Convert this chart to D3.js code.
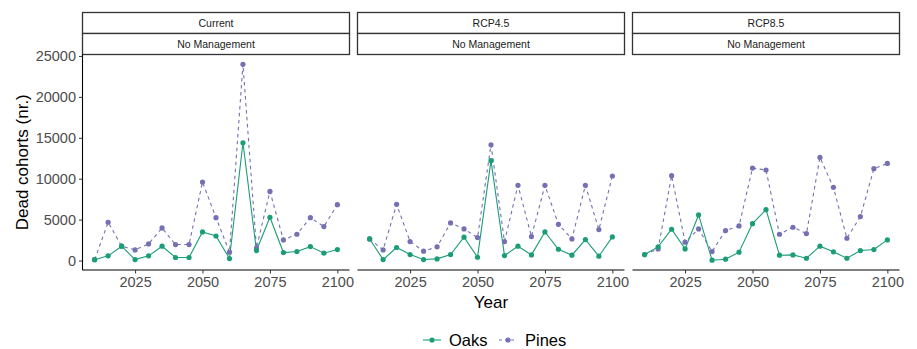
<!DOCTYPE html>
<html>
<head>
<meta charset="utf-8">
<script src="https://cdn.jsdelivr.net/npm/d3@7"></script>
<style>
	body { margin: 0; background: #fff; }
	svg { display: block; }
</style>
</head>
<body>
<div class="chart"></div>
<script>
	var years = [2010, 2015, 2020, 2025, 2030, 2035, 2040, 2045, 2050, 2055,
		2060, 2065, 2070, 2075, 2080, 2085, 2090, 2095, 2100];
	var scenarios = ['Current', 'RCP4.5', 'RCP8.5'];
	var management = 'No Management';
	var species = ['Oaks', 'Pines'];

	// Dead cohorts per scenario
	var oaksCurrent = [100, 570, 1750, 120, 570, 1750, 370, 370, 3500, 3000,
		240, 14390, 1220, 5280, 975, 1100, 1700, 900, 1340];
	var pinesCurrent = [100, 4675, 1750, 1300, 2030, 3980, 1950, 1950, 9590, 5240,
		1020, 23980, 1540, 8450, 2520, 3210, 5240, 4150, 6830];
	var oaksRcp45 = [2640, 120, 1590, 730, 120, 200, 730, 2850, 400, 12200,
		610, 1750, 690, 3500, 1380, 650, 2560, 530, 2890];
	var pinesRcp45 = [2640, 1300, 6870, 2320, 1140, 1670, 4590, 3860, 2800, 14150,
		2320, 9190, 2930, 9190, 4430, 2640, 9190, 3780, 10330];
	var oaksRcp85 = [730, 1670, 3820, 1420, 5570, 40, 160, 1020, 4510, 6220,
		650, 690, 280, 1750, 1060, 280, 1220, 1340, 2520];
	var pinesRcp85 = [730, 1420, 10370, 2240, 3860, 1100, 3660, 4230, 11300, 11060,
		3210, 4070, 3290, 12600, 8940, 2720, 5370, 11220, 11870];

	var yTicks = [0, 5000, 10000, 15000, 20000, 25000];
	var xTicks = [2025, 2050, 2075, 2100];

	var oakColor = '#1b9e77',
		pineColor = '#7570b3',
		tickTextColor = '#4d4d4d',
		stripBorder = '#333333';

	var panelData = [
		{oaks: oaksCurrent, pines: pinesCurrent},
		{oaks: oaksRcp45, pines: pinesRcp45},
		{oaks: oaksRcp85, pines: pinesRcp85}
	];

	var W = 917, H = 349;
	var panelLeft = 82.5, panelWidth = 267, panelGap = 8;
	var stripTop = 12.5, stripH = 21;
	var panelTop = stripTop + 2 * stripH, panelBottom = 270;

	var svg = d3.select('.chart').append('svg')
		.attr('width', W)
		.attr('height', H)
		.attr('font-family', '"Liberation Sans", Arial, sans-serif');

	// ggplot-like scale expansion of 5%
	var allVals = d3.merge(panelData.map(function(p) { return p.oaks.concat(p.pines); }));
	var yMin = d3.min(allVals), yMax = d3.max(allVals);
	var yPad = (yMax - yMin) * 0.05;
	var y = d3.scaleLinear().domain([yMin - yPad, yMax + yPad]).range([panelBottom, panelTop]);
	var xPad = (d3.max(years) - d3.min(years)) * 0.05;
	var xDomain = [d3.min(years) - xPad, d3.max(years) + xPad];

	scenarios.forEach(function(scen, i) {
		var left = panelLeft + i * (panelWidth + panelGap);
		var x = d3.scaleLinear().domain(xDomain).range([left, left + panelWidth]);
		var g = svg.append('g');

		// two strips: scenario and management
		[scen, management].forEach(function(label, j) {
			g.append('rect')
				.attr('x', left)
				.attr('y', stripTop + j * stripH)
				.attr('width', panelWidth)
				.attr('height', stripH)
				.attr('fill', '#fff')
				.attr('stroke', stripBorder)
				.attr('stroke-width', 1.3);
			g.append('text')
				.attr('x', left + panelWidth / 2)
				.attr('y', stripTop + j * stripH + stripH / 2)
				.attr('dy', '0.35em')
				.attr('text-anchor', 'middle')
				.attr('font-size', '10.5px')
				.attr('fill', '#1a1a1a')
				.text(label);
		});

		// x axis on every panel
		var xAxis = g.append('g')
			.attr('transform', 'translate(0,' + panelBottom + ')')
			.call(d3.axisBottom(x).tickValues(xTicks).tickSize(3.5).tickPadding(3).tickFormat(d3.format('d')));
		xAxis.select('.domain').attr('stroke', '#000').attr('stroke-width', 1.1)
			.attr('d', 'M' + left + ',0H' + (left + panelWidth));
		xAxis.selectAll('.tick line').attr('stroke', '#333');
		xAxis.selectAll('.tick text')
			.attr('font-size', '14.5px')
			.attr('font-family', '"Liberation Sans", Arial, sans-serif')
			.attr('fill', tickTextColor);

		// y axis on the first panel only
		if (i === 0) {
			var yAxis = g.append('g')
				.attr('transform', 'translate(' + left + ',0)')
				.call(d3.axisLeft(y).tickValues(yTicks).tickSize(3.5).tickPadding(3).tickFormat(d3.format('d')));
			yAxis.select('.domain').attr('stroke', '#000').attr('stroke-width', 1.1)
				.attr('d', 'M0,' + panelTop + 'V' + panelBottom);
			yAxis.selectAll('.tick line').attr('stroke', '#333');
			yAxis.selectAll('.tick text')
				.attr('font-size', '14.5px')
				.attr('font-family', '"Liberation Sans", Arial, sans-serif')
				.attr('fill', tickTextColor);
		}

		var line = d3.line()
			.x(function(d, k) { return x(years[k]); })
			.y(function(d) { return y(d); });

		var p = panelData[i];
		// pines: dashed
		g.append('path')
			.attr('d', line(p.pines))
			.attr('fill', 'none')
			.attr('stroke', pineColor)
			.attr('stroke-width', 1.1)
			.attr('stroke-dasharray', '3.5,3.5');
		g.append('path')
			.attr('d', line(p.oaks))
			.attr('fill', 'none')
			.attr('stroke', oakColor)
			.attr('stroke-width', 1.1);
		g.selectAll('circle.pine').data(p.pines).enter().append('circle')
			.attr('class', 'pine')
			.attr('cx', function(d, k) { return x(years[k]); })
			.attr('cy', function(d) { return y(d); })
			.attr('r', 2.6)
			.attr('fill', pineColor);
		g.selectAll('circle.oak').data(p.oaks).enter().append('circle')
			.attr('class', 'oak')
			.attr('cx', function(d, k) { return x(years[k]); })
			.attr('cy', function(d) { return y(d); })
			.attr('r', 2.6)
			.attr('fill', oakColor);
	});

	// axis titles
	svg.append('text')
		.attr('x', panelLeft + (3 * panelWidth + 2 * panelGap) / 2)
		.attr('y', 302)
		.attr('dy', '0.35em')
		.attr('text-anchor', 'middle')
		.attr('font-size', '17px')
		.attr('fill', '#000')
		.text('Year');
	svg.append('text')
		.attr('transform', 'translate(22,' + ((panelTop + panelBottom) / 2) + ') rotate(-90)')
		.attr('dy', '0.35em')
		.attr('text-anchor', 'middle')
		.attr('font-size', '17px')
		.attr('fill', '#000')
		.text('Dead cohorts (nr.)');

	// legend
	var legend = svg.append('g').attr('transform', 'translate(0,340)');
	var legendItems = [
		{name: species[0], color: oakColor, dash: null, x: 423},
		{name: species[1], color: pineColor, dash: '3,3', x: 499}
	];
	legendItems.forEach(function(it) {
		legend.append('line')
			.attr('x1', it.x).attr('x2', it.x + 18)
			.attr('y1', 0).attr('y2', 0)
			.attr('stroke', it.color)
			.attr('stroke-width', 1.1)
			.attr('stroke-dasharray', it.dash);
		legend.append('circle')
			.attr('cx', it.x + 9).attr('cy', 0).attr('r', 2.6)
			.attr('fill', it.color);
		legend.append('text')
			.attr('x', it.x + 26)
			.attr('y', 0)
			.attr('dy', '0.35em')
			.attr('font-size', '16.5px')
			.attr('fill', '#000')
			.text(it.name);
	});
</script>
</body>
</html>
